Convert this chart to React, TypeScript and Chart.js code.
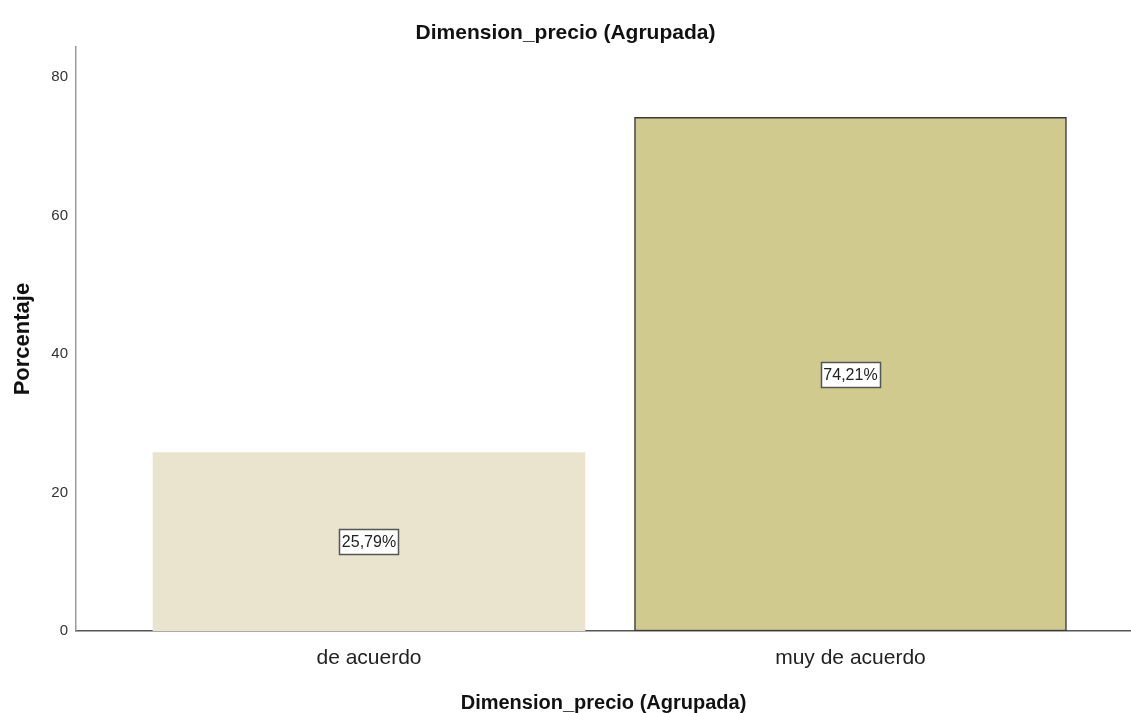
import React, { useEffect, useRef } from "react";
import { Chart, registerables } from "chart.js";

Chart.register(...registerables);

const categories = ["de acuerdo", "muy de acuerdo"];
const percentages = [25.79, 74.21];
const valueLabels = ["25,79%", "74,21%"];
const yTicks = [0, 20, 40, 60, 80];
const chartTitle = "Dimension_precio (Agrupada)";
const xTitle = "Dimension_precio (Agrupada)";
const yTitle = "Porcentaje";

const FONT = "'Liberation Sans', Arial, sans-serif";

const boxLabelPlugin = {
  id: "boxLabels",
  afterDatasetsDraw(chart: any) {
    const { ctx } = chart;
    const xs = chart.scales.x;
    const ys = chart.scales.y;
    ctx.save();
    ctx.font = `16px ${FONT}`;
    ctx.textAlign = "center";
    ctx.textBaseline = "middle";
    percentages.forEach((v, i) => {
      const cx = xs.getPixelForValue(i);
      const cy = ys.getPixelForValue(v / 2);
      const text = valueLabels[i];
      const w = Math.round(ctx.measureText(text).width + 5);
      const h = 25;
      const x0 = Math.round(cx - w / 2) + 0.5;
      const y0 = Math.round(cy - h / 2) + 0.5;
      ctx.fillStyle = "#ffffff";
      ctx.fillRect(x0, y0, w, h);
      ctx.strokeStyle = "#555555";
      ctx.lineWidth = 1.5;
      ctx.strokeRect(x0, y0, w, h);
      ctx.fillStyle = "#222222";
      ctx.fillText(text, cx, cy + 1);
    });
    ctx.restore();
  },
};

export default function App() {
  const ref = useRef<HTMLCanvasElement | null>(null);
  useEffect(() => {
    if (!ref.current) return;
    const chart = new Chart(ref.current, {
      type: "bar",
      data: {
        datasets: [
          {
            data: percentages.map((y, i) => ({ x: i, y })),
            backgroundColor: ["rgb(234,228,207)", "rgb(208,202,142)"],
            borderColor: ["rgba(0,0,0,0)", "#3a3a3a"],
            borderWidth: [0, 1.5],
            borderSkipped: false,
            barThickness: 432,
          } as any,
        ],
      },
      options: {
        animation: false,
        responsive: false,
        maintainAspectRatio: false,
        layout: { padding: 0 },
        plugins: {
          legend: { display: false },
          tooltip: { enabled: false },
          title: {
            display: true,
            text: chartTitle,
            color: "#111",
            font: { family: FONT, size: 21, weight: "bold" },
            padding: { top: 21, bottom: 1 },
          },
        },
        scales: {
          x: {
            type: "linear",
            offset: false,
            min: -0.6085,
            max: 1.5826,
            afterBuildTicks: (s: any) => {
              s.ticks = categories.map((_, i) => ({ value: i }));
            },
            afterFit: (s: any) => {
              s.height = 82;
            },
            grid: { display: false, drawTicks: false, offset: false },
            border: { display: true, color: "#555", width: 1.5 },
            ticks: {
              callback: (v: any) => categories[v] ?? "",
              color: "#222",
              font: { family: FONT, size: 21 },
              padding: 15,
              maxRotation: 0,
            },
            title: {
              display: true,
              text: xTitle,
              color: "#111",
              font: { family: FONT, size: 20, weight: "bold" },
              padding: { top: 0, bottom: -2 },
            },
          },
          y: {
            min: 0,
            max: 84.33,
            afterBuildTicks: (s: any) => {
              s.ticks = yTicks.map((v) => ({ value: v }));
            },
            afterFit: (s: any) => {
              s.width = 76;
            },
            grid: { display: false, drawTicks: false },
            border: { display: true, color: "#999", width: 1.5 },
            ticks: {
              color: "#333",
              font: { family: FONT, size: 15 },
              padding: 8,
            },
            title: {
              display: true,
              text: yTitle,
              color: "#111",
              font: { family: FONT, size: 22, weight: "bold" },
              padding: { top: 10, bottom: 0 },
            },
          },
        },
      } as any,
      plugins: [boxLabelPlugin],
    });
    return () => chart.destroy();
  }, []);
  return (
    <div style={{ position: "absolute", left: 0, top: 0, width: 1131, height: 713, background: "#fff" }}>
      <canvas ref={ref} width={1131} height={713} style={{ width: 1131, height: 713 }} />
    </div>
  );
}
